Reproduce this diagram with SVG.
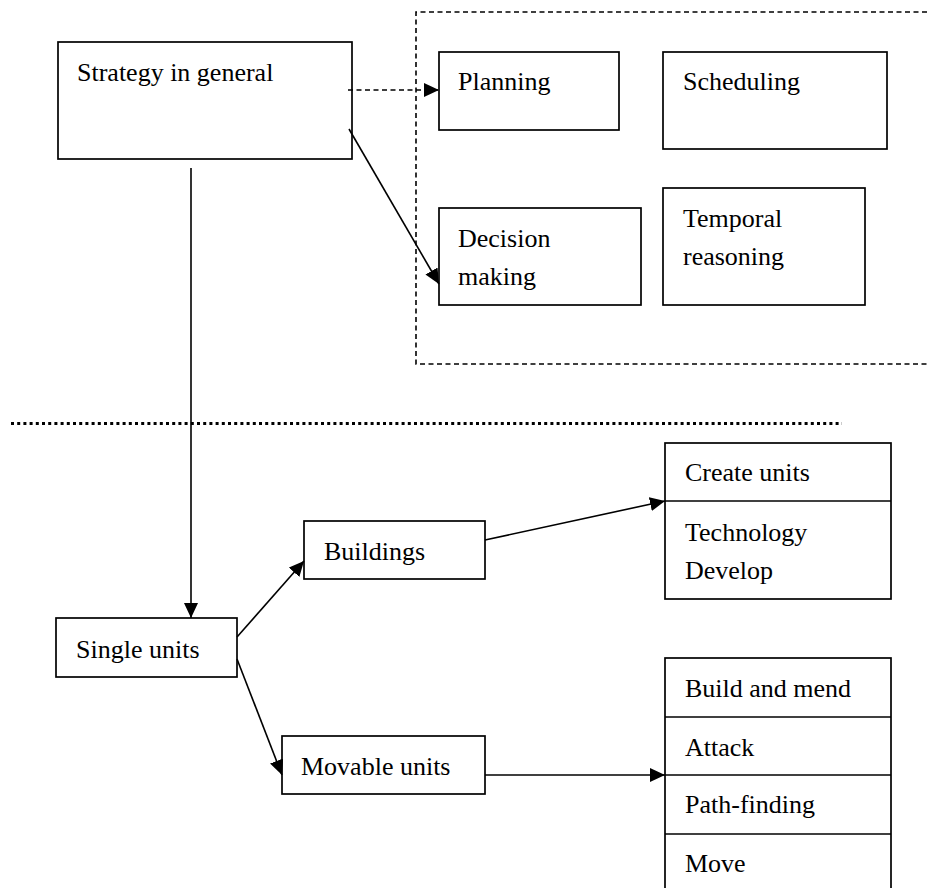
<svg xmlns="http://www.w3.org/2000/svg" width="927" height="888" viewBox="0 0 927 888">
  <style>
    .box { fill: #fff; stroke: #000; stroke-width: 1.7; }
    .sep { fill: none; stroke: #000; stroke-width: 1.7; }
    .lbl { font-family: "Liberation Serif", "Times New Roman", serif; font-size: 26px; fill: #000; }
    .edge { fill: none; stroke: #000; stroke-width: 1.6; marker-end: url(#arrow); }
    .dashed { stroke-dasharray: 5 3.5; }
  </style>
  <defs>
    <marker id="arrow" markerUnits="userSpaceOnUse" markerWidth="15" markerHeight="14" refX="15" refY="7" orient="auto">
      <path d="M0,0 L15,7 L0,14 Z" fill="#000"/>
    </marker>
  </defs>
  <rect width="927" height="888" fill="#fff"/>

  <!-- strategy-level group frame (open to the right) -->
  <path d="M927,12 H416 V364 H927" fill="none" stroke="#000" stroke-width="1.6" stroke-dasharray="5 3.5"/>

  <!-- divider between strategy level and unit level -->
  <line x1="11" y1="423.5" x2="842" y2="423.5" stroke="#000" stroke-width="3" stroke-dasharray="3 3.2"/>

  <g id="strategy">
    <rect class="box" x="58" y="42" width="294" height="117"/>
    <text class="lbl" x="77" y="81">Strategy in general</text>
  </g>
  <g id="planning">
    <rect class="box" x="439" y="52" width="180" height="78"/>
    <text class="lbl" x="458" y="90">Planning</text>
  </g>
  <g id="scheduling">
    <rect class="box" x="663" y="52" width="224" height="97"/>
    <text class="lbl" x="683" y="90">Scheduling</text>
  </g>
  <g id="decision">
    <rect class="box" x="439" y="208" width="202" height="97"/>
    <text class="lbl" x="458" y="247">Decision</text>
    <text class="lbl" x="458" y="285">making</text>
  </g>
  <g id="temporal">
    <rect class="box" x="663" y="188" width="202" height="117"/>
    <text class="lbl" x="683" y="227">Temporal</text>
    <text class="lbl" x="683" y="265">reasoning</text>
  </g>
  <g id="single">
    <rect class="box" x="56" y="618" width="181" height="59"/>
    <text class="lbl" x="76" y="658">Single units</text>
  </g>
  <g id="buildings">
    <rect class="box" x="304" y="521" width="181" height="58"/>
    <text class="lbl" x="324" y="560">Buildings</text>
  </g>
  <g id="movable">
    <rect class="box" x="282" y="736" width="203" height="58"/>
    <text class="lbl" x="301" y="775">Movable units</text>
  </g>
  <g id="building-actions">
    <rect class="box" x="665" y="443" width="226" height="156"/>
    <line class="sep" x1="665" y1="501" x2="891" y2="501"/>
    <text class="lbl" x="685" y="481">Create units</text>
    <text class="lbl" x="685" y="541">Technology</text>
    <text class="lbl" x="685" y="579">Develop</text>
  </g>
  <g id="unit-actions">
    <rect class="box" x="665" y="658" width="226" height="240"/>
    <line class="sep" x1="665" y1="717" x2="891" y2="717"/>
    <line class="sep" x1="665" y1="775" x2="891" y2="775"/>
    <line class="sep" x1="665" y1="834" x2="891" y2="834"/>
    <text class="lbl" x="685" y="697">Build and mend</text>
    <text class="lbl" x="685" y="756">Attack</text>
    <text class="lbl" x="685" y="813">Path-finding</text>
    <text class="lbl" x="685" y="872">Move</text>
  </g>

  <g id="connectors">
    <line class="edge dashed" x1="348" y1="90" x2="439" y2="90"/>
    <line class="edge" x1="349" y1="129" x2="439" y2="284"/>
    <line class="edge" x1="191" y1="168" x2="191" y2="618"/>
    <line class="edge" x1="237" y1="637" x2="304" y2="561"/>
    <line class="edge" x1="237" y1="659" x2="282" y2="775"/>
    <line class="edge" x1="485" y1="540" x2="665" y2="501"/>
    <line class="edge" x1="485" y1="775" x2="665" y2="775"/>
  </g>
</svg>
